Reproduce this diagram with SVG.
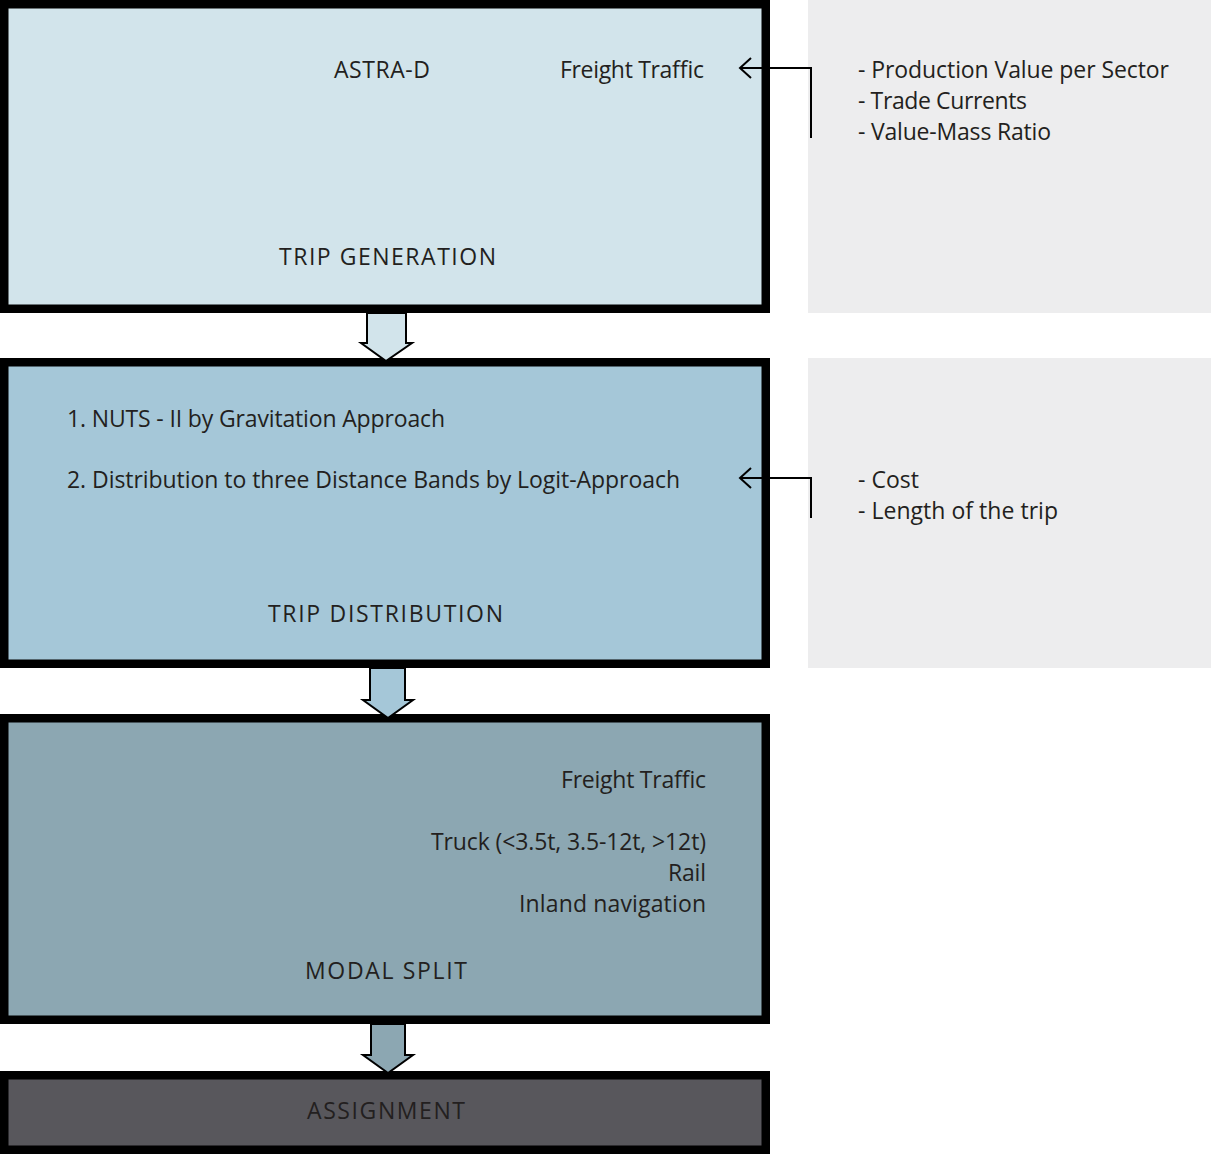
<svg xmlns="http://www.w3.org/2000/svg" width="1211" height="1154" viewBox="0 0 1211 1154">
<defs>
<style>
.box{stroke:#000;stroke-width:8.5}
.panel{fill:#ededee}
.t{font-family:"Open Sans","Noto Sans","DejaVu Sans",sans-serif;font-size:23px;fill:#231f20}
.conn{fill:none;stroke:#000;stroke-width:2}
.blk{stroke:#000;stroke-width:2;stroke-linejoin:miter}
</style>
</defs>
<rect width="1211" height="1154" fill="#ffffff"/>
<g id="panel-inputs-1">
<rect class="panel" x="808" y="0" width="403" height="313"/>
<text class="t" x="858" y="78" textLength="311">- Production Value per Sector</text>
<text class="t" x="858" y="109" textLength="169">- Trade Currents</text>
<text class="t" x="858" y="140" textLength="193">- Value-Mass Ratio</text>
</g>
<g id="panel-inputs-2">
<rect class="panel" x="808" y="358" width="403" height="310"/>
<text class="t" x="858" y="488" textLength="61">- Cost</text>
<text class="t" x="858" y="519" textLength="200">- Length of the trip</text>
</g>
<g id="trip-generation">
<rect class="box" x="4.25" y="4.25" width="761.5" height="304.5" fill="#d2e4eb"/>
<text class="t" x="334" y="78" textLength="96">ASTRA-D</text>
<text class="t" x="560" y="78" textLength="144">Freight Traffic</text>
<text class="t" x="279" y="265" textLength="217">TRIP GENERATION</text>
</g>
<g id="trip-distribution">
<rect class="box" x="4.25" y="362.25" width="761.5" height="301.5" fill="#a5c7d8"/>
<text class="t" x="67" y="427" textLength="378">1. NUTS - II by Gravitation Approach</text>
<text class="t" x="67" y="488" textLength="613">2. Distribution to three Distance Bands by Logit-Approach</text>
<text class="t" x="268" y="622" textLength="235">TRIP DISTRIBUTION</text>
</g>
<g id="modal-split">
<rect class="box" x="4.25" y="718.25" width="761.5" height="301.5" fill="#8ca7b2"/>
<text class="t" x="561" y="788" textLength="145">Freight Traffic</text>
<text class="t" x="431" y="850" textLength="275">Truck (&lt;3.5t, 3.5-12t, &gt;12t)</text>
<text class="t" x="668" y="881" textLength="38">Rail</text>
<text class="t" x="519" y="912" textLength="187">Inland navigation</text>
<text class="t" x="305" y="979" textLength="162">MODAL SPLIT</text>
</g>
<g id="assignment">
<rect class="box" x="4.25" y="1075.25" width="761.5" height="74.5" fill="#58575c"/>
<text class="t" x="307" y="1119" textLength="158">ASSIGNMENT</text>
</g>
<g id="connectors">
<polygon class="blk" fill="#d2e4eb" points="367,313 406,313 406,343 412,343 386,361 361,343 367,343"/>
<polygon class="blk" fill="#a5c7d8" points="370,668 405,668 405,700 413,700 388,718 363,700 370,700"/>
<polygon class="blk" fill="#8ca7b2" points="371,1024 405,1024 405,1055 413,1055 388,1073 363,1055 371,1055"/>
<path class="conn" d="M811,138 V68 H741"/>
<path class="conn" d="M751,58 L740,68 L751,78"/>
<path class="conn" d="M811,518 V478 H741"/>
<path class="conn" d="M751,468 L740,478 L751,488"/>
</g>
</svg>
